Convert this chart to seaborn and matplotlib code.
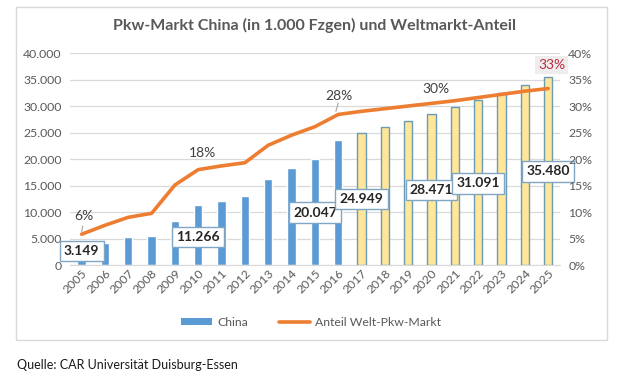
import numpy as np
import pandas as pd
import matplotlib
matplotlib.use("Agg")
import matplotlib.pyplot as plt
from matplotlib.patches import Rectangle, Patch
from matplotlib.lines import Line2D
from matplotlib.ticker import FuncFormatter
import seaborn as sns

# data
years = [str(y) for y in range(2005, 2026)]
sales = [3149, 4100, 5200, 5500, 8300, 11266, 12100, 13100, 16200, 18300, 20047,
         23600, 24949, 26100, 27200, 28471, 29800, 31091, 32500, 34000, 35480]
kind = ["Ist"] * 12 + ["Prognose"] * 9
share = [5.8, 7.5, 9.0, 9.75, 15.1, 18.0, 18.7, 19.3, 22.6, 24.5, 26.1,
         28.4, 29.0, 29.5, 30.0, 30.5, 31.0, 31.6, 32.2, 32.8, 33.3]

# which bars get a boxed value label, and at what height
label_idx = [0, 5, 10, 12, 15, 17, 20]
label_y = [2600, 5300, 9900, 12450, 14150, 15400, 17650]

# percentage annotations: (index, text x-pos, text y-pos in %)
pct_labels = [(0, 0.1, 9.2, "6%"), (5, 5.2, 21.1, "18%"), (11, 11.05, 31.9, "28%"),
              (15, 15.2, 33.2, "30%"), (20, 20.15, 37.7, "33%")]

df = pd.DataFrame({"Jahr": years, "Pkw": sales, "Art": kind, "Anteil": share})

sns.set_style("white")
plt.rcParams["font.family"] = ["Lato", "DejaVu Sans"]

fig = plt.figure(figsize=(6.22, 3.75), dpi=100)
ax = fig.add_axes([0.1125, 0.2933, 0.7875, 0.5653])

# outer chart frame
fig.patches.append(Rectangle((0.0257, 0.0933), 0.950, 0.888, transform=fig.transFigure,
                             fill=False, edgecolor="#D9D9D9", linewidth=1))

sns.barplot(data=df, x="Jahr", y="Pkw", hue="Art", dodge=False, width=0.36, saturation=1,
            palette={"Ist": "#5B9BD5", "Prognose": "#FFE699"}, legend=False, ax=ax)
# forecast bars get a thin blue-grey outline
for bar in ax.patches:
    if bar.get_x() + bar.get_width() / 2 > 11.5:
        bar.set_edgecolor("#6A9BB5")
        bar.set_linewidth(1)

ax.set_ylim(0, 40000)
ax.set_xlim(-0.5, len(years) - 0.5)
ax.set_yticks(np.arange(0, 40001, 5000))
ax.yaxis.set_major_formatter(FuncFormatter(lambda v, p: f"{int(v):,}".replace(",", ".")))
ax.grid(axis="y", color="#D9D9D9", linewidth=0.9)
ax.set_axisbelow(True)
for s in ["top", "right", "left"]:
    ax.spines[s].set_visible(False)
ax.spines["bottom"].set_color("#D9D9D9")
ax.set_xlabel("")
ax.set_ylabel("")
ax.tick_params(axis="y", length=0, labelsize=8.8, labelcolor="#595959", pad=6)
ax.tick_params(axis="x", length=0, labelsize=8.8, labelcolor="#595959", pad=2)
plt.setp(ax.get_xticklabels(), rotation=45, ha="right", rotation_mode="anchor")

ax2 = ax.twinx()
sns.lineplot(x=np.arange(len(years)), y=share, color="#ED7D31", linewidth=2.6, ax=ax2)
ax2.set_ylim(0, 40)
ax2.set_yticks(np.arange(0, 41, 5))
ax2.yaxis.set_major_formatter(FuncFormatter(lambda v, p: f"{int(v)}%"))
for s in ["top", "right", "left", "bottom"]:
    ax2.spines[s].set_visible(False)
ax2.tick_params(axis="y", length=0, labelsize=8.8, labelcolor="#595959", pad=6)

# boxed value labels
for i, yv in zip(label_idx, label_y):
    ax.text(i, yv, f"{sales[i]:,}".replace(",", "."), ha="center", va="center",
            fontsize=10, fontweight="bold", color="#262626", zorder=5,
            bbox=dict(boxstyle="square,pad=0.3", facecolor="white", edgecolor="#7FA7C5", linewidth=1))

# percentage labels
for i, tx, ty, txt in pct_labels:
    if txt == "33%":
        ax2.text(tx, ty, txt, ha="center", va="center", fontsize=10, color="#C0283F",
                 bbox=dict(boxstyle="square,pad=0.2", facecolor="#EDEDED", edgecolor="none"))
    else:
        ax2.text(tx, ty, txt, ha="center", va="center", fontsize=10, color="#404040")
ax2.plot([0.05, 0.0], [7.4, 6.2], color="#A6A6A6", linewidth=0.8)
ax2.plot([11.0, 10.9], [30.6, 29.0], color="#A6A6A6", linewidth=0.8)

fig.text(0.506, 0.931, "Pkw-Markt China (in 1.000 Fzgen) und Weltmarkt-Anteil",
         ha="center", va="center", fontsize=11.5, fontweight="bold", color="#595959")

handles = [Patch(facecolor="#5B9BD5", edgecolor="none"),
           Line2D([0], [0], color="#ED7D31", linewidth=2.6)]
fig.legend(handles, ["China", "Anteil Welt-Pkw-Markt"], loc="center", ncol=2,
           bbox_to_anchor=(0.5, 0.141), frameon=False, fontsize=8.8, labelcolor="#595959",
           handlelength=2.6, handleheight=0.5, columnspacing=2.5, handletextpad=0.4)

fig.text(0.027, 0.027, "Quelle: CAR Universität Duisburg-Essen", ha="left", va="center",
         fontsize=9, color="#1a1a1a")

fig.savefig("out.png", dpi=100)
